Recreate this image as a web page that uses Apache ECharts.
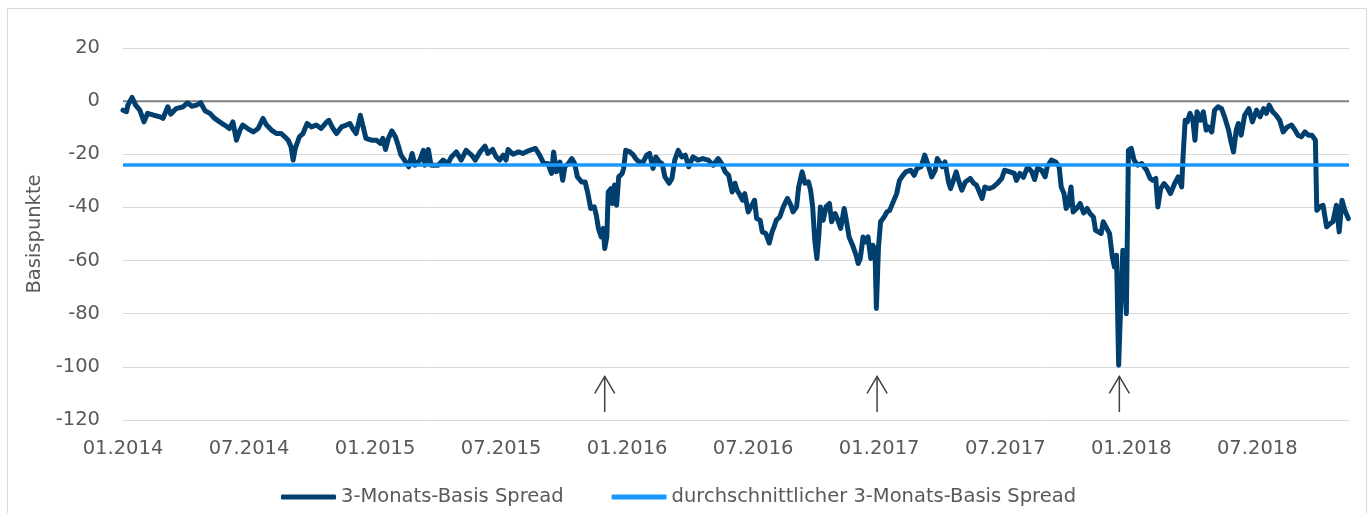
<!DOCTYPE html>
<html>
<head>
<meta charset="utf-8">
<script src="https://cdn.jsdelivr.net/npm/echarts@6/dist/echarts.min.js"></script>
<style>
  html, body { margin: 0; padding: 0; background: #fff; }
  #frame { position: absolute; left: 7px; top: 8px; width: 1360px; height: 540px; border: 1px solid #d9d9d9; box-sizing: border-box; }
  #main { position: absolute; left: 0; top: 0; width: 1372px; height: 513px; }
</style>
</head>
<body>
<div id="frame"></div>
<div id="main"></div>
<script>
// 3-Monats-Basis Spread (Basispunkte)
const dates = [
  '2014-01-01','2014-01-06','2014-01-08','2014-01-14','2014-01-19','2014-01-25','2014-02-01','2014-02-06','2014-02-15','2014-02-24',
  '2014-02-28','2014-03-05','2014-03-09','2014-03-17','2014-03-27','2014-04-03','2014-04-09','2014-04-16','2014-04-22','2014-04-28',
  '2014-05-05','2014-05-12','2014-05-19','2014-05-26','2014-06-03','2014-06-08','2014-06-13','2014-06-18','2014-06-22','2014-06-29',
  '2014-07-07','2014-07-14','2014-07-21','2014-07-26','2014-08-03','2014-08-10','2014-08-17','2014-08-22','2014-08-27','2014-09-01',
  '2014-09-04','2014-09-07','2014-09-13','2014-09-18','2014-09-24','2014-09-30','2014-10-07','2014-10-14','2014-10-22','2014-10-25',
  '2014-11-01','2014-11-06','2014-11-13','2014-11-20','2014-11-25','2014-11-29','2014-12-04','2014-12-10','2014-12-14','2014-12-18',
  '2014-12-26','2015-01-03','2015-01-09','2015-01-12','2015-01-16','2015-01-20','2015-01-25','2015-01-30','2015-02-04','2015-02-08',
  '2015-02-13','2015-02-19','2015-02-24','2015-02-28','2015-03-05','2015-03-10','2015-03-12','2015-03-17','2015-03-21','2015-04-01',
  '2015-04-08','2015-04-15','2015-04-20','2015-04-27','2015-05-04','2015-05-11','2015-05-19','2015-05-24','2015-05-31','2015-06-08',
  '2015-06-12','2015-06-19','2015-06-24','2015-06-29','2015-07-04','2015-07-08','2015-07-11','2015-07-18','2015-07-26','2015-08-02',
  '2015-08-10','2015-08-20','2015-08-26','2015-09-02','2015-09-08','2015-09-13','2015-09-16','2015-09-20','2015-09-25','2015-09-29',
  '2015-10-02','2015-10-07','2015-10-12','2015-10-16','2015-10-20','2015-10-26','2015-11-01','2015-11-05','2015-11-09','2015-11-14',
  '2015-11-17','2015-11-20','2015-11-24','2015-11-27','2015-11-29','2015-12-02','2015-12-04','2015-12-08','2015-12-10','2015-12-13',
  '2015-12-16','2015-12-19','2015-12-24','2015-12-26','2015-12-29','2016-01-05','2016-01-10','2016-01-13','2016-01-18','2016-01-24',
  '2016-01-29','2016-02-03','2016-02-08','2016-02-12','2016-02-17','2016-02-21','2016-02-25','2016-03-01','2016-03-05','2016-03-09',
  '2016-03-14','2016-03-19','2016-03-24','2016-03-29','2016-04-05','2016-04-12','2016-04-19','2016-04-27','2016-05-04','2016-05-11',
  '2016-05-16','2016-05-21','2016-05-26','2016-05-31','2016-06-05','2016-06-08','2016-06-11','2016-06-16','2016-06-19','2016-06-24',
  '2016-06-29','2016-07-03','2016-07-06','2016-07-11','2016-07-14','2016-07-19','2016-07-24','2016-07-28','2016-07-31','2016-08-04',
  '2016-08-09','2016-08-14','2016-08-20','2016-08-25','2016-08-28','2016-09-03','2016-09-06','2016-09-11','2016-09-15','2016-09-20',
  '2016-09-23','2016-09-26','2016-09-29','2016-10-02','2016-10-05','2016-10-07','2016-10-11','2016-10-15','2016-10-20','2016-10-23',
  '2016-10-28','2016-11-02','2016-11-06','2016-11-11','2016-11-14','2016-11-18','2016-11-23','2016-11-28','2016-12-01','2016-12-04',
  '2016-12-08','2016-12-12','2016-12-15','2016-12-19','2016-12-22','2016-12-25','2016-12-27','2016-12-30','2017-01-03','2017-01-08',
  '2017-01-12','2017-01-16','2017-01-21','2017-01-26','2017-01-30','2017-02-05','2017-02-09','2017-02-16','2017-02-21','2017-02-25',
  '2017-03-01','2017-03-06','2017-03-11','2017-03-16','2017-03-21','2017-03-24','2017-03-31','2017-04-05','2017-04-10','2017-04-13',
  '2017-04-17','2017-04-21','2017-04-25','2017-04-29','2017-05-04','2017-05-11','2017-05-16','2017-05-20','2017-05-25','2017-05-28',
  '2017-06-02','2017-06-08','2017-06-14','2017-06-20','2017-06-26','2017-06-30','2017-07-08','2017-07-14','2017-07-17','2017-07-22',
  '2017-07-27','2017-08-03','2017-08-09','2017-08-13','2017-08-17','2017-08-23','2017-08-28','2017-09-01','2017-09-07','2017-09-13',
  '2017-09-18','2017-09-21','2017-09-25','2017-09-28','2017-10-01','2017-10-05','2017-10-08','2017-10-13','2017-10-18','2017-10-23',
  '2017-10-28','2017-11-02','2017-11-07','2017-11-10','2017-11-14','2017-11-18','2017-11-21','2017-11-26','2017-11-30','2017-12-04',
  '2017-12-07','2017-12-10','2017-12-13','2017-12-16','2017-12-19','2017-12-21','2017-12-24','2017-12-27','2018-01-01','2018-01-05',
  '2018-01-10','2018-01-16','2018-01-18','2018-01-23','2018-01-28','2018-02-02','2018-02-06','2018-02-09','2018-02-13','2018-02-18',
  '2018-02-22','2018-02-27','2018-03-03','2018-03-08','2018-03-13','2018-03-15','2018-03-18','2018-03-21','2018-03-25','2018-03-29',
  '2018-04-02','2018-04-05','2018-04-10','2018-04-14','2018-04-18','2018-04-21','2018-04-26','2018-04-30','2018-05-05','2018-05-10',
  '2018-05-15','2018-05-20','2018-05-23','2018-05-27','2018-05-31','2018-06-04','2018-06-08','2018-06-13','2018-06-19','2018-06-24',
  '2018-06-30','2018-07-05','2018-07-10','2018-07-14','2018-07-18','2018-07-23','2018-07-28','2018-08-03','2018-08-08','2018-08-14',
  '2018-08-20','2018-08-25','2018-08-29','2018-09-04','2018-09-09','2018-09-14','2018-09-19','2018-09-24','2018-09-26','2018-09-30',
  '2018-10-05','2018-10-10','2018-10-15','2018-10-19','2018-10-24','2018-10-28','2018-11-02','2018-11-06','2018-11-11'
];
const spread = [
  -3.4,-4,-1.5,1.4,-1.5,-3.4,-7.8,-4.6,-5.3,-5.9,
  -6.5,-2.1,-4.9,-2.8,-2.1,-0.6,-1.9,-1.5,-0.6,-3.6,
  -4.6,-6.5,-7.8,-9,-10.3,-7.8,-14.7,-10.9,-9,-10.3,
  -11.6,-10.3,-6.5,-9,-10.9,-12.2,-12.2,-13.4,-14.7,-17.2,
  -22.2,-17.8,-13.4,-12.2,-8.4,-9.7,-9,-10.3,-7.8,-7.2,
  -10.3,-12.2,-9.7,-9,-8.4,-10.3,-12.2,-5.3,-9.7,-14,
  -14.7,-14.7,-15.9,-14,-18.2,-14,-11.2,-13.4,-16.6,-20.3,
  -22.2,-24.7,-19.7,-24.1,-22.2,-18.5,-24.1,-18.2,-24.1,-24.1,
  -22.2,-23.5,-21,-19.1,-22.2,-18.5,-20.3,-22.2,-19.1,-16.9,
  -19.7,-18.2,-21,-22.2,-20.3,-22.2,-18.2,-20,-19.1,-19.7,
  -18.7,-17.8,-20.3,-23.5,-23.5,-27.2,-19.1,-26.6,-22.9,-29.8,
  -24.7,-23.5,-21.6,-23.5,-28.5,-30.4,-30.4,-34.8,-40.4,-39.8,
  -42.9,-47.9,-51.1,-47.9,-55.5,-51.1,-34.2,-32.9,-38.5,-31.6,
  -39.2,-28.5,-27.2,-25.3,-18.5,-19.1,-20.3,-21.6,-22.9,-22.9,
  -20.3,-19.7,-25.3,-21,-22.9,-23.5,-28.5,-30.9,-29.1,-22.2,
  -18.5,-21,-20.3,-24.7,-21,-22.2,-21.6,-22.2,-24.1,-21.6,
  -23.5,-26.6,-27.9,-34.2,-30.9,-33.5,-34.8,-37.3,-34.8,-41.7,
  -39.2,-37.3,-44.2,-44.8,-49.2,-49.8,-53.4,-49.2,-47.3,-44.8,
  -43.6,-39.8,-36.6,-39.2,-41.7,-39.8,-32.3,-26.6,-30.9,-30.4,
  -33.5,-39.8,-52.4,-59.2,-49.8,-39.8,-44.8,-39.8,-38.5,-45.4,
  -42.3,-44.8,-47.9,-40.4,-44.8,-51.1,-54.2,-58,-61.1,-59.2,
  -51.1,-53,-51.1,-59.2,-54.2,-56.1,-78,-54.9,-45.4,-43.6,
  -41.7,-41.1,-37.9,-34.8,-29.8,-27.9,-26.6,-26,-27.9,-25.3,
  -24.7,-20.3,-24.1,-28.5,-26,-21.6,-24.7,-22.9,-30.4,-32.9,
  -29.8,-26.6,-30.4,-33.5,-30.4,-29.1,-30.9,-31.6,-34.8,-36.6,
  -32.3,-32.9,-32.3,-30.9,-29.1,-26,-26.6,-27.2,-29.8,-27.2,
  -28.7,-24.7,-26.6,-29.5,-25.3,-26,-28.5,-24.7,-22.2,-22.9,
  -24.7,-32.3,-34.8,-40.4,-39.2,-32.3,-41.7,-40.4,-38.5,-42.1,
  -40.4,-42.3,-43.6,-48.6,-49.2,-49.8,-45.4,-47.9,-49.8,-58.6,
  -62.4,-58,-99.4,-76.2,-56.1,-61.1,-80,-18.5,-17.8,-22.2,
  -24.1,-23.5,-24.1,-26,-29.1,-29.8,-29.1,-39.8,-32.9,-31,
  -32.3,-34.8,-31,-28.5,-32.3,-21,-7.2,-7.8,-4.6,-7.2,
  -14.7,-4,-7.2,-4,-10.9,-9.7,-11.6,-3.4,-2.1,-2.8,
  -6.5,-10.9,-14.7,-19.1,-10.9,-8.4,-12.8,-5.3,-2.8,-7.8,
  -3.4,-5.9,-2.8,-4.6,-1.5,-4,-5.3,-7.2,-11.6,-9.7,
  -9,-10.9,-12.8,-13.4,-11.6,-12.8,-12.8,-14.7,-41.1,-39.8,
  -39.2,-47.3,-46.1,-45.4,-39.2,-49.2,-37.3,-41.1,-44.2
];
const avgSpread = -24;
const axisStart = '2014-01-01';
const axisEnd = '2018-11-12';
const arrowDates = ['2015-11-29', '2016-12-28', '2017-12-14'];
const arrowTop = -103.6;
const arrowBottom = -117;
const yTicks = [-120, -100, -80, -60, -40, -20, 0, 20];

// months since 01.2014 (fractional)
function toMonth(s) {
  const p = s.split('-').map(Number);
  return (p[0] - 2014) * 12 + (p[1] - 1) + (p[2] - 1) / 30;
}
const xMin = toMonth(axisStart);
const xMax = toMonth(axisEnd);

const chartDom = document.getElementById('main');
const myChart = echarts.init(chartDom);
const font = 'DejaVu Sans';
const grey = '#595959';
const fs = 19.5;

const option = {
  animation: false,
  textStyle: { fontFamily: font },
  grid: { left: 123, right: 23, top: 48, bottom: 93 },
  legend: {
    data: ['3-Monats-Basis Spread', 'durchschnittlicher 3-Monats-Basis Spread'],
    icon: 'roundRect',
    left: 276,
    top: 482,
    itemWidth: 55,
    itemHeight: 5,
    itemGap: 48,
    textStyle: { fontFamily: font, fontSize: fs, color: grey }
  },
  xAxis: {
    type: 'value',
    min: xMin,
    max: xMax,
    interval: 6,
    axisLine: { show: false },
    axisTick: { show: false },
    splitLine: { show: false },
    axisLabel: {
      margin: 19,
      fontSize: fs,
      color: grey,
      fontFamily: font,
      showMaxLabel: false,
      formatter: function (v) {
        if (Math.abs(v % 6) > 1e-6) return '';
        const y = 2014 + Math.floor(v / 12);
        const m = Math.round(v % 12) + 1;
        return (m < 10 ? '0' + m : m) + '.' + y;
      }
    }
  },
  yAxis: {
    type: 'value',
    min: yTicks[0],
    max: yTicks[yTicks.length - 1],
    interval: 20,
    name: 'Basispunkte',
    nameLocation: 'middle',
    nameRotate: 90,
    nameGap: 76,
    nameTextStyle: { fontFamily: font, fontSize: fs, color: grey },
    axisLine: { show: false },
    axisTick: { show: false },
    axisLabel: { margin: 23, fontSize: fs, color: grey, fontFamily: font },
    splitLine: { lineStyle: { color: '#d9d9d9', width: 1 } }
  },
  series: [
    {
      name: 'zero',
      type: 'line',
      data: [[xMin, 0], [xMax, 0]],
      symbol: 'none',
      silent: true,
      lineStyle: { color: '#808080', width: 2 },
      z: 1
    },
    {
      name: '3-Monats-Basis Spread',
      type: 'line',
      data: dates.map((d, i) => [toMonth(d), spread[i]]),
      symbol: 'none',
      color: '#003f6e',
      lineStyle: { color: '#003f6e', width: 5, join: 'round', cap: 'round' },
      z: 2
    },
    {
      name: 'durchschnittlicher 3-Monats-Basis Spread',
      type: 'line',
      data: [[xMin, avgSpread], [xMax, avgSpread]],
      symbol: 'none',
      color: '#1a98fb',
      lineStyle: { color: '#1a98fb', width: 3.5 },
      z: 3
    },
    {
      name: 'arrows',
      type: 'custom',
      silent: true,
      clip: false,
      data: arrowDates.map((d) => [toMonth(d), arrowTop, arrowBottom]),
      renderItem: function (params, api) {
        const top = api.coord([api.value(0), api.value(1)]);
        const bot = api.coord([api.value(0), api.value(2)]);
        const st = { stroke: '#404040', lineWidth: 1.5, fill: null };
        return {
          type: 'group',
          children: [
            { type: 'line', shape: { x1: bot[0], y1: bot[1], x2: top[0], y2: top[1] }, style: st },
            { type: 'polyline', shape: { points: [[top[0] - 10, top[1] + 17], [top[0], top[1]], [top[0] + 10, top[1] + 17]] }, style: st }
          ]
        };
      },
      z: 4
    }
  ]
};

option && myChart.setOption(option);

window.addEventListener('resize', () => {
  myChart.resize();
});
</script>
</body>
</html>
